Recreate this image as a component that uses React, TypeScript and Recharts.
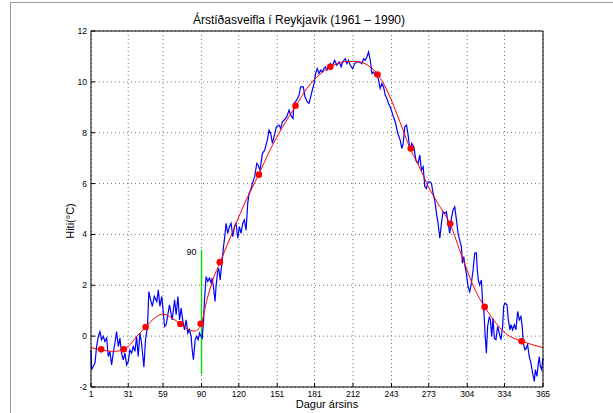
import React from 'react';
import { ComposedChart, Line, XAxis, YAxis, CartesianGrid, ReferenceDot } from 'recharts';

const dayTicks = [1, 31, 59, 90, 120, 151, 181, 212, 243, 273, 304, 334, 365];
const tempTicks = [-2, 0, 2, 4, 6, 8, 10, 12];

// daily mean temperature (blue)
const dailyDays = [
  1, 1.5, 2.8, 4.2, 5.5, 6.9, 8.2, 9.5, 10.9, 12.2, 13.6, 14.9, 16.2, 17.6, 18.9, 20.3, 21.6, 23, 24.3, 25.6,
  27, 28.3, 29.7, 31, 32.3, 33.7, 35, 36.4, 37.7, 39, 40.4, 41.7, 43.6, 44.9, 46.5, 47.6, 49, 50.4, 52, 54,
  55.2, 56.5, 58, 59.3, 60.2, 61.5, 64.2, 66.4, 68.3, 69.6, 71, 72.3, 73.6, 75, 76.3, 77.6, 79, 80.3, 81.6, 82.5,
  83.5, 84.9, 86.2, 87.3, 88.4, 89.7, 90.5, 91.6, 92.4, 93.7, 95, 96.4, 97.7, 98.5, 99.6, 100.9, 101.7, 103, 103.9, 105,
  105.8, 106.6, 107.6, 108.7, 109.8, 111.1, 112.5, 113.8, 115.2, 116.5, 117.8, 119.2, 120.5, 121.9, 123.2, 124.5, 125.9, 127.2, 128.3, 129.6,
  131, 132.8, 134.5, 135.5, 137.1, 139, 140.9, 143, 144.4, 145.7, 147.1, 148.4, 150.3, 152.4, 153.8, 155.1, 156.4, 158.6, 160.5, 161.8,
  163.7, 164.5, 166.6, 168.5, 169.8, 172, 173.3, 175.2, 176.5, 177.9, 179.2, 180.6, 181.9, 183.2, 184.6, 185.9, 187, 188.6, 189.7, 191,
  193.7, 195, 197.2, 199, 200.9, 202.5, 203.6, 205.8, 207.1, 208.4, 209.8, 211.7, 213.3, 215.1, 217, 219.2, 220.5, 221.8, 223.2, 224.5,
  225.9, 227.2, 228.5, 229.9, 231.2, 232.6, 233.9, 235.2, 236.6, 237.9, 239.3, 240.6, 241.9, 243.3, 244.6, 246, 248.1, 250, 251.3, 252.4,
  253.7, 255.1, 256.4, 257.2, 258.3, 259.3, 261, 262.6, 264.4, 265.8, 267.1, 268.5, 269.8, 271.1, 272.5, 273.8, 275.2, 276.5, 277.8, 279.2,
  280.5, 281.9, 283.2, 284.5, 285.9, 287.2, 288.6, 289.9, 291.2, 292.6, 293.9, 295.3, 296.6, 297.9, 299.3, 300.1, 301.2, 302.2, 303.3, 304.6,
  306, 307.3, 308.7, 310, 311.3, 312.1, 312.9, 314, 315.4, 316.4, 317.2, 318.3, 319.4, 320.4, 321.8, 322.6, 323.7, 324.7, 325.8, 327.1,
  328.5, 329.8, 331.2, 332.5, 333.3, 334.4, 336, 337.1, 338.4, 339.2, 340.5, 341.9, 343.2, 344.6, 345.9, 347.2, 348.3, 349.1, 350.5, 351.5,
  352.6, 353.9, 355.3, 356.6, 358, 358.8, 360.1, 361.2, 362, 362.8, 363.9, 365,
];
const dailyTemps = [
  -0.55, -1.32, -1.19, -1.06, -0.41, -0.01, 0.18, -0.14, -0.01, -0.21, -0.08, -0.8, -0.6, -1.13, -0.67, -0.27, 0.18, -0.41, -0.08, -0.67,
  -0.93, -0.67, -1.13, -1.0, -0.54, -0.67, -0.41, -0.6, -0.01, -0.8, 0.12, -0.27, -1.22, -0.14, 0.38, 1.75, 1.43, 1.17, 1.56, 1.36,
  1.82, 1.17, 1.56, 0.9, 0.38, 0.44, 1.23, 0.64, 1.43, 0.84, 1.56, 0.64, 1.1, 0.58, 0.25, 0.64, 0.12, 0.25, -0.01, -0.54,
  -0.93, -0.14, -0.01, -0.14, 0.12, -0.01, -0.08, 0.51, 1.43, 2.34, 2.15, 2.28, 2.08, 2.28, 1.95, 1.36, 1.95, 2.54, 2.67, 2.21,
  2.6, 2.93, 3.46, 3.91, 4.44, 4.04, 4.31, 4.44, 3.91, 4.31, 4.44, 3.85, 4.31, 4.04, 4.44, 4.57, 4.17, 5.22, 5.61, 5.74,
  6.01, 6.27, 6.79, 6.73, 6.53, 7.18, 7.32, 7.71, 8.1, 7.97, 7.58, 7.84, 8.23, 8.3, 8.17, 8.43, 8.49, 8.62, 8.89, 8.69,
  8.56, 9.15, 9.28, 9.47, 9.8, 9.8, 9.41, 9.21, 9.15, 9.41, 9.67, 9.93, 10.33, 10.52, 10.33, 10.46, 10.39, 10.52, 10.59, 10.46,
  10.72, 10.59, 10.85, 10.65, 10.78, 10.59, 10.78, 10.91, 10.72, 10.85, 10.65, 10.52, 10.72, 10.78, 10.78, 10.72, 10.91, 10.85, 10.98, 11.18,
  10.85, 10.33, 10.39, 10.26, 10.33, 10.06, 9.74, 9.93, 9.8, 9.48, 9.34, 9.15, 9.02, 8.82, 8.62, 8.43, 7.97, 7.71, 7.38, 7.58,
  8.23, 8.3, 7.9, 7.58, 7.32, 7.58, 7.45, 6.92, 6.79, 7.12, 6.53, 6.66, 5.88, 5.81, 6.07, 6.07, 6.01, 5.61, 5.35, 4.83,
  4.44, 3.85, 4.44, 4.89, 4.83, 4.89, 4.44, 4.04, 4.63, 4.96, 5.09, 4.57, 4.04, 3.78, 3.52, 2.87, 3.13, 2.74, 2.47, 1.95,
  1.75, 2.08, 2.6, 3.26, 3.28, 2.6, 2.21, 2.01, 2.21, 1.3, 1.17, 0.12, -0.67, 0.38, 0.77, 0.64, -0.01, 0.71, -0.08, -0.14,
  0.38, 0.12, -0.14, 0.38, 1.17, 1.3, 1.23, 0.64, 0.25, 0.45, 0.25, 0.45, 0.25, 0.97, 0.64, 0.77, 0.38, -0.27, -0.54, -0.47,
  -0.34, -0.8, -1.06, -1.45, -1.78, -1.32, -1.58, -1.06, -0.8, -1.19, -1.32, -0.86,
];

// smoothed curve (red)
const smoothDays = [1, 10, 20, 31, 38, 45, 52, 59, 66, 73, 79, 84, 88, 90, 94, 99, 105, 115, 125, 136, 145, 155, 166, 175, 181, 188, 194, 200, 207, 215, 220, 225, 232, 240, 250, 258, 265, 273, 280, 290, 300, 310, 318, 325, 335, 348, 356, 365];
const smoothTemps = [-0.45, -0.55, -0.6, -0.4, 0.0, 0.36, 0.7, 0.87, 0.72, 0.48, 0.27, 0.2, 0.3, 0.5, 1.35, 2.2, 2.91, 4.1, 5.25, 6.35, 7.3, 8.2, 9.06, 9.75, 10.1, 10.4, 10.6, 10.72, 10.8, 10.8, 10.75, 10.62, 10.29, 9.6, 8.4, 7.38, 6.7, 5.85, 5.25, 4.42, 3.1, 1.85, 1.15, 0.65, 0.1, -0.2, -0.33, -0.45];

// monthly points (red dots)
const monthDays = [9.2, 27.4, 45, 73, 89.3, 104.7, 136.2, 165.7, 193.7, 231.7, 258.5, 290.3, 318, 347.8];
const monthTemps = [-0.52, -0.52, 0.36, 0.48, 0.49, 2.91, 6.35, 9.06, 10.59, 10.29, 7.38, 4.42, 1.15, -0.2];

const markerDay = 90;
const markerLow = -1.5;
const markerHigh = 3.4;

const daily = dailyDays.map((d, i) => ({ day: d, temp: dailyTemps[i] }));
const smooth = smoothDays.map((d, i) => ({ day: d, temp: smoothTemps[i] }));
const months = monthDays.map((d, i) => ({ day: d, temp: monthTemps[i] }));
const marker = [
  { day: markerDay, temp: markerLow },
  { day: markerDay, temp: markerHigh },
];

const font = 'Liberation Sans, Arial, Helvetica, sans-serif';
const tickStyle = { fontSize: 8.5, fill: '#000', fontFamily: font };

export default function App() {
  return (
    <div style={{ position: 'absolute', left: 0, top: 0, width: 613, height: 413, overflow: 'hidden', background: '#fff' }}>
      <ComposedChart width={613} height={413} margin={{ top: 21, right: 60, bottom: 0, left: 0 }}>
        <CartesianGrid stroke="#777" strokeDasharray="1 3" />
        <XAxis
          dataKey="day"
          type="number"
          domain={[1, 365]}
          ticks={dayTicks}
          interval={0}
          allowDuplicatedCategory={false}
          height={26}
          tickSize={-4}
          tickMargin={8}
          tick={tickStyle}
          stroke="#000"
        />
        <XAxis
          xAxisId="top"
          orientation="top"
          type="number"
          domain={[1, 365]}
          ticks={dayTicks}
          interval={0}
          height={10}
          tickSize={-4}
          tick={() => null}
          stroke="#000"
        />
        <YAxis
          type="number"
          domain={[-2, 12]}
          ticks={tempTicks}
          interval={0}
          width={91}
          tickSize={-4}
          tickMargin={8}
          tick={tickStyle}
          stroke="#000"
        />
        <YAxis
          yAxisId="right"
          orientation="right"
          type="number"
          domain={[-2, 12]}
          ticks={tempTicks}
          interval={0}
          width={10}
          tickSize={-4}
          tick={() => null}
          stroke="#000"
        />
        <Line data={marker} dataKey="temp" type="linear" stroke="#00dd00" strokeWidth={1.4} dot={false} isAnimationActive={false} />
        <Line data={daily} dataKey="temp" type="linear" stroke="#0000ff" strokeWidth={1.2} dot={false} isAnimationActive={false} />
        <Line data={smooth} dataKey="temp" type="monotone" stroke="#ff0000" strokeWidth={1} dot={false} isAnimationActive={false} />
        <Line
          data={months}
          dataKey="temp"
          type="linear"
          stroke="none"
          dot={{ r: 3.3, fill: '#ff0000', stroke: '#ff0000', strokeWidth: 0 }}
          isAnimationActive={false}
        />
        <ReferenceDot
          x={markerDay}
          y={3.3}
          r={1}
          fill="none"
          stroke="none"
          label={{ value: '90', position: 'left', offset: 4, fontSize: 9, fill: '#000', fontFamily: font }}
        />
      </ComposedChart>
      <svg width={613} height={413} style={{ position: 'absolute', left: 0, top: 0, pointerEvents: 'none' }}>
        <rect x={10.5} y={2.5} width={700} height={500} fill="none" stroke="#999" />
        <text x={299} y={20} textAnchor="middle" dominantBaseline="central" fontSize={12} fontFamily={font} fill="#000">
          Árstíðasveifla í Reykjavík (1961 – 1990)
        </text>
        <text x={327} y={404} textAnchor="middle" dominantBaseline="central" fontSize={11} fontFamily={font} fill="#000">
          Dagur ársins
        </text>
        <text
          x={70}
          y={221}
          textAnchor="middle"
          dominantBaseline="central"
          fontSize={11}
          fontFamily={font}
          fill="#000"
          transform="rotate(-90 70 221)"
        >
          Hiti(°C)
        </text>
      </svg>
    </div>
  );
}
